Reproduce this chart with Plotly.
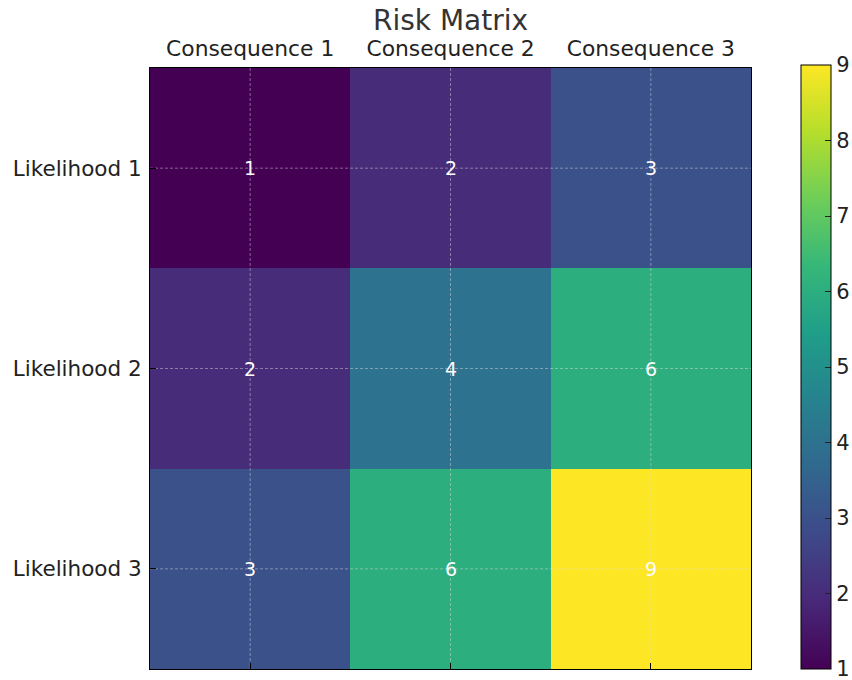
import plotly.graph_objects as go

consequences = ["Consequence 1", "Consequence 2", "Consequence 3"]
likelihoods = ["Likelihood 1", "Likelihood 2", "Likelihood 3"]
risk = [[1, 2, 3],
        [2, 4, 6],
        [3, 6, 9]]

W, H = 852, 680
L, R, T, B = 150, 101, 68, 11
PW = W - L - R
PH = H - T - B

fig = go.Figure()
fig.add_trace(go.Heatmap(
    z=risk, x=[0, 1, 2], y=[0, 1, 2],
    colorscale="Viridis", zmin=1, zmax=9,
    texttemplate="%{z}", textfont=dict(color="white", size=19, family="DejaVu Sans"),
    hoverinfo="skip",
    colorbar=dict(
        thickness=30, lenmode="pixels", len=604, y=(H - B - 669) / PH + 0.0, yanchor="bottom",
        x=(801 - L) / PW, xanchor="left", xpad=0, ypad=0,
        outlinewidth=1, outlinecolor="black",
        tickvals=list(range(1, 10)), ticks="inside", ticklen=6, tickcolor="#222",
        ticklabeloverflow="allow",
        tickfont=dict(size=21, family="DejaVu Sans", color="#222"),
    ),
))

# dashed grid lines through cell centers (drawn above heatmap)
grid_style = dict(color="rgba(225,225,225,0.45)", width=1, dash="3px,2px")
for i in range(3):
    fig.add_trace(go.Scatter(x=[-0.5, 2.5], y=[i, i], mode="lines", line=grid_style,
                             hoverinfo="skip", showlegend=False))
    fig.add_trace(go.Scatter(x=[i, i], y=[-0.5, 2.5], mode="lines", line=grid_style,
                             hoverinfo="skip", showlegend=False))

fig.update_layout(
    width=W, height=H,
    margin=dict(l=L, r=R, t=T, b=B, autoexpand=False),
    paper_bgcolor="white", plot_bgcolor="white",
    font=dict(family="DejaVu Sans", color="#222"),
    title=dict(text="Risk Matrix", x=(L + PW / 2) / W, xanchor="center",
               y=1 - 20 / H, yanchor="middle", font=dict(size=28, color="#333")),
    xaxis=dict(range=[-0.5, 2.5], side="top", tickvals=[0, 1, 2], ticktext=consequences,
               ticks="", tickfont=dict(size=21.8), showgrid=False, zeroline=False,
               ticklabelstandoff=2,
               showline=True, linecolor="black", mirror=True),
    xaxis2=dict(range=[-0.5, 2.5], overlaying="x", side="bottom", tickvals=[0, 1, 2],
                showticklabels=False, ticks="inside", ticklen=6, tickcolor="black",
                showgrid=False, zeroline=False, matches="x"),
    yaxis=dict(range=[2.5, -0.5], tickvals=[0, 1, 2], ticktext=likelihoods,
               ticks="inside", ticklen=6, tickcolor="black", tickfont=dict(size=21.5),
               ticklabelstandoff=3,
               showgrid=False, zeroline=False, showline=True, linecolor="black", mirror=True),
)
# invisible trace so the bottom tick axis is displayed
fig.add_trace(go.Scatter(x=[0], y=[0], xaxis="x2", mode="markers", marker=dict(opacity=0),
                         hoverinfo="skip", showlegend=False))

fig.write_html("out.html", config={"displayModeBar": False},
               post_script="document.body.style.margin='0';document.body.style.overflow='hidden';")
